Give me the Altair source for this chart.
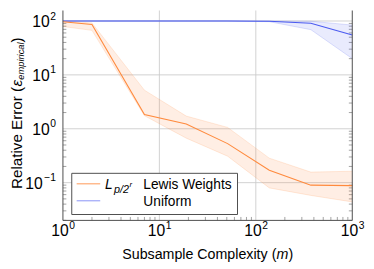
import altair as alt
import pandas as pd

# ---------------- data ----------------
m = [1, 2, 7, 19, 51, 138, 372, 1000]
lewis_mean = [97, 86, 1.83, 1.23, 0.53, 0.17, 0.090, 0.088]
lewis_low = [79, 67, 1.75, 0.67, 0.31, 0.080, 0.058, 0.044]
lewis_high = [100, 92, 5.2, 1.72, 1.06, 0.285, 0.157, 0.163]
uniform_mean = [100, 100, 100, 100, 100, 99, 91, 55]
uniform_low = [100, 100, 100, 100, 100, 97, 69, 20]
uniform_high = [100, 100, 100, 100, 100, 100, 99, 84]

x_major = [1, 10, 100, 1000]
x_major_exp = ["0", "1", "2", "3"]
y_major = [0.1, 1, 10, 100]
y_major_exp = ["−1", "0", "1", "2"]
x_minor = [j * 10 ** k for k in range(3) for j in range(2, 10)]
y_minor = [j * 10.0 ** k for k in range(-2, 3) for j in range(2, 10) if j * 10.0 ** k < 150]

# ---------------- layout ----------------
W, H = 295, 214
FONT = "Liberation Sans"
ORANGE = "#ff8a3d"
BLUE = "#4a5af0"
XS = alt.Scale(type="log", domain=[1, 1000], nice=False)
YS = alt.Scale(type="log", domain=[0.01995, 156.5], nice=False)

lewis = pd.DataFrame({"m": m, "mean": lewis_mean, "low": lewis_low, "high": lewis_high})
unif = pd.DataFrame({"m": m, "mean": uniform_mean, "low": uniform_low, "high": uniform_high})
one = pd.DataFrame({"a": [0]})


def X(f="m"):
    return alt.X(f"{f}:Q", scale=XS, axis=None)


def Y(f):
    return alt.Y(f"{f}:Q", scale=YS, axis=None)


layers = []

# grid
layers.append(alt.Chart(pd.DataFrame({"m": x_major[1:-1]})).mark_rule(color="#cccccc", strokeWidth=0.9)
              .encode(x=X("m"), y=alt.value(0), y2=alt.value(H)))
layers.append(alt.Chart(pd.DataFrame({"v": y_major})).mark_rule(color="#cccccc", strokeWidth=0.9)
              .encode(y=Y("v"), x=alt.value(0), x2=alt.value(W)))

# minor ticks
xmin = pd.DataFrame({"m": x_minor})
ymin = pd.DataFrame({"v": y_minor})
tick_style = dict(color="#8a8a8a", strokeWidth=0.8)
layers.append(alt.Chart(xmin).mark_rule(**tick_style).encode(x=X("m"), y=alt.value(H), y2=alt.value(H - 3.5)))
layers.append(alt.Chart(ymin).mark_rule(**tick_style).encode(y=Y("v"), x=alt.value(0), x2=alt.value(3.5)))
layers.append(alt.Chart(ymin).mark_rule(**tick_style).encode(y=Y("v"), x=alt.value(W), x2=alt.value(W - 3.5)))

# bands
for df, col, op in [(lewis, ORANGE, 0.14), (unif, BLUE, 0.12)]:
    layers.append(alt.Chart(df).mark_area(color=col, opacity=op)
                  .encode(x=X(), y=Y("low"), y2="high:Q"))
    layers.append(alt.Chart(df).mark_line(color=col, opacity=0.22, strokeWidth=0.8)
                  .encode(x=X(), y=Y("low")))
    layers.append(alt.Chart(df).mark_line(color=col, opacity=0.22, strokeWidth=0.8)
                  .encode(x=X(), y=Y("high")))

# mean lines
layers.append(alt.Chart(unif).mark_line(color=BLUE, strokeWidth=1.1).encode(x=X(), y=Y("mean")))
layers.append(alt.Chart(lewis).mark_line(color=ORANGE, strokeWidth=1.1).encode(x=X(), y=Y("mean")))

# frame
frame = dict(color="#4d4d4d", strokeWidth=1)
layers.append(alt.Chart(one).mark_rule(**frame).encode(x=alt.value(0), y=alt.value(0), y2=alt.value(H)))
layers.append(alt.Chart(one).mark_rule(**frame).encode(x=alt.value(W), y=alt.value(0), y2=alt.value(H)))
layers.append(alt.Chart(one).mark_rule(**frame).encode(x=alt.value(0), x2=alt.value(W), y=alt.value(H)))

# tick labels
xl = pd.DataFrame({"m": x_major, "e": x_major_exp})
yl = pd.DataFrame({"v": y_major, "e": y_major_exp})
yl["base_x"] = [-20.5 if e.startswith("−") else -13.5 for e in y_major_exp]
lab = dict(font=FONT, color="#000")
layers.append(alt.Chart(xl).mark_text(fontSize=16, align="right", baseline="middle", dx=6, **lab)
              .encode(x=X("m"), y=alt.value(H + 11), text=alt.value("10")))
layers.append(alt.Chart(xl).mark_text(fontSize=10.5, align="left", baseline="middle", dx=6.5, **lab)
              .encode(x=X("m"), y=alt.value(H + 6), text="e:N"))
layers.append(alt.Chart(yl).mark_text(fontSize=16, align="right", baseline="middle", dy=1, **lab)
              .encode(y=Y("v"), x=alt.X("base_x:Q", scale=None, axis=None), text=alt.value("10")))
layers.append(alt.Chart(yl).mark_text(fontSize=10.5, align="right", baseline="middle", dy=-4.5, **lab)
              .encode(y=Y("v"), x=alt.value(-7), text="e:N"))

# axis titles
layers.append(alt.Chart(one).mark_text(fontSize=14.5, align="left", baseline="alphabetic", **lab)
              .encode(x=alt.value(60.5), y=alt.value(253), text=alt.value("Subsample Complexity (")))
layers.append(alt.Chart(one).mark_text(fontSize=14.5, align="left", baseline="alphabetic", fontStyle="italic", **lab)
              .encode(x=alt.value(217.8), y=alt.value(253), text=alt.value("m")))
layers.append(alt.Chart(one).mark_text(fontSize=14.5, align="left", baseline="alphabetic", **lab)
              .encode(x=alt.value(230), y=alt.value(253), text=alt.value(")")))

TX = -47
layers.append(alt.Chart(one).mark_text(fontSize=15.5, align="left", baseline="middle", angle=270, **lab)
              .encode(x=alt.value(TX), y=alt.value(182), text=alt.value("Relative Error (")))
layers.append(alt.Chart(one).mark_text(fontSize=15.5, align="left", baseline="middle", angle=270, fontStyle="italic", **lab)
              .encode(x=alt.value(TX), y=alt.value(77.5), text=alt.value("ε")))
layers.append(alt.Chart(one).mark_text(fontSize=9.5, align="left", baseline="middle", angle=270, fontStyle="italic", **lab)
              .encode(x=alt.value(TX + 4), y=alt.value(70.5), text=alt.value("empirical")))
layers.append(alt.Chart(one).mark_text(fontSize=15.5, align="left", baseline="middle", angle=270, **lab)
              .encode(x=alt.value(TX), y=alt.value(32.5), text=alt.value(")")))

# legend
layers.append(alt.Chart(one).mark_rect(fill="white", stroke="#4d4d4d", strokeWidth=1)
              .encode(x=alt.value(9), x2=alt.value(178), y=alt.value(166), y2=alt.value(208)))
layers.append(alt.Chart(one).mark_rule(color=ORANGE, strokeWidth=1.1, opacity=0.8)
              .encode(x=alt.value(14), x2=alt.value(38), y=alt.value(176.7)))
layers.append(alt.Chart(one).mark_rule(color=BLUE, strokeWidth=1.1, opacity=0.6)
              .encode(x=alt.value(14), x2=alt.value(38), y=alt.value(194)))
layers.append(alt.Chart(one).mark_text(fontSize=14, align="left", baseline="alphabetic", fontStyle="italic", **lab)
              .encode(x=alt.value(43), y=alt.value(181.5), text=alt.value("L")))
layers.append(alt.Chart(one).mark_text(fontSize=11, align="left", baseline="alphabetic", fontStyle="italic", **lab)
              .encode(x=alt.value(52), y=alt.value(186), text=alt.value("p/2")))
layers.append(alt.Chart(one).mark_text(fontSize=8, align="left", baseline="alphabetic", fontStyle="italic", **lab)
              .encode(x=alt.value(68), y=alt.value(179.5), text=alt.value("r")))
layers.append(alt.Chart(one).mark_text(fontSize=14, align="left", baseline="alphabetic", **lab)
              .encode(x=alt.value(82), y=alt.value(181.5), text=alt.value("Lewis Weights")))
layers.append(alt.Chart(one).mark_text(fontSize=14, align="left", baseline="alphabetic", **lab)
              .encode(x=alt.value(82), y=alt.value(199), text=alt.value("Uniform")))

chart = alt.layer(*layers).properties(
    width=W, height=H,
    autosize=alt.AutoSizeParams(type="none"),
    padding={"left": 56, "top": 0, "right": 14, "bottom": 47},
).configure_view(stroke=None)

chart.save("out.html", embed_options={"renderer": "svg", "actions": False})
